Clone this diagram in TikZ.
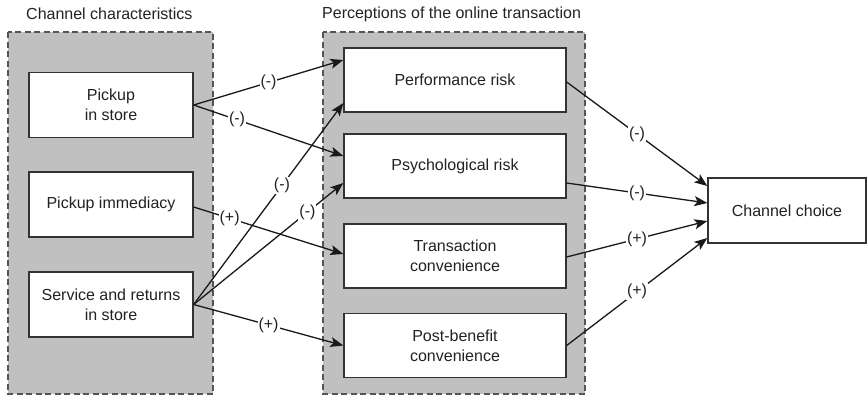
\documentclass[tikz,border=0pt]{standalone}
\usepackage{fontspec}
\setmainfont{Liberation Sans}
\usetikzlibrary{arrows.meta}
\definecolor{grp}{HTML}{C0C0C0}
\definecolor{grpline}{HTML}{555555}
\definecolor{boxline}{HTML}{333333}
\definecolor{txt}{HTML}{222222}
\begin{document}
\begin{tikzpicture}[x=1pt,y=-1pt,
  every node/.style={font=\fontsize{16}{20}\selectfont, text=txt},
  group/.style={draw=grpline, fill=grp, line width=1.3pt, dash pattern=on 6pt off 3.5pt},
  box/.style={draw=boxline, fill=white, line width=1.3pt, align=center, inner sep=2pt},
  lbox/.style={box, minimum width=164pt, minimum height=65pt},
  rbox/.style={box, minimum width=222pt, minimum height=64pt},
  arr/.style={draw=black!90, line width=1.3pt, -{Stealth[length=13pt,width=10pt,inset=3pt]}},
  sign/.style={fill=white, inner sep=1pt}]
\useasboundingbox (0,0) rectangle (867,397);
% titles
\node[anchor=west, inner sep=0pt] (t1) at (26,14) {Channel characteristics};
\node[anchor=west, inner sep=0pt] (t2) at (322,14) {Perceptions of the online transaction};
% groups
\draw[group] (8,32) rectangle (213,394);
\draw[group] (323,32) rectangle (585,394);
% left boxes
\node[lbox] (pis) at (111,105) {Pickup\\in store};
\node[lbox] (pim) at (111,204.5) {Pickup immediacy};
\node[lbox] (sri) at (111,304.5) {Service and returns\\in store};
% right boxes
\node[rbox] (perf) at (455,80) {Performance risk};
\node[rbox] (psy) at (455,166) {Psychological risk};
\node[rbox] (trans) at (455,256) {Transaction\\convenience};
\node[rbox] (post) at (455,345.5) {Post-benefit\\convenience};
% outcome
\node[box, minimum width=158pt, minimum height=65pt] (cc) at (787,210.5) {Channel choice};
% left arrows
\draw[arr] (pis.east) -- node[sign, pos=0.5] {(-)} ([yshift=20pt]perf.west);
\draw[arr] (pis.east) -- node[sign, pos=0.29] {(-)} ([yshift=10pt]psy.west);
\draw[arr] ([yshift=-2.5pt]pim.east) -- node[sign, pos=0.24] {(+)} ([yshift=2pt]trans.west);
\draw[arr] (sri.east) -- node[sign, pos=0.59] {(-)} ([yshift=-23pt]perf.west);
\draw[arr] (sri.east) -- node[sign, pos=0.76] {(-)} ([yshift=-17pt]psy.west);
\draw[arr] (sri.east) -- node[sign, pos=0.5] {(+)} (post.west);
% right arrows
\draw[arr] ([yshift=-2pt]perf.east) -- node[sign, pos=0.5] {(-)} ([yshift=24.5pt]cc.west);
\draw[arr] ([yshift=-17pt]psy.east) -- node[sign, pos=0.5] {(-)} ([yshift=7.5pt]cc.west);
\draw[arr] ([yshift=-1pt]trans.east) -- node[sign, pos=0.5] {(+)} ([yshift=-10.5pt]cc.west);
\draw[arr] (post.east) -- node[sign, pos=0.5] {(+)} ([yshift=-27.5pt]cc.west);
\end{tikzpicture}
\end{document}
